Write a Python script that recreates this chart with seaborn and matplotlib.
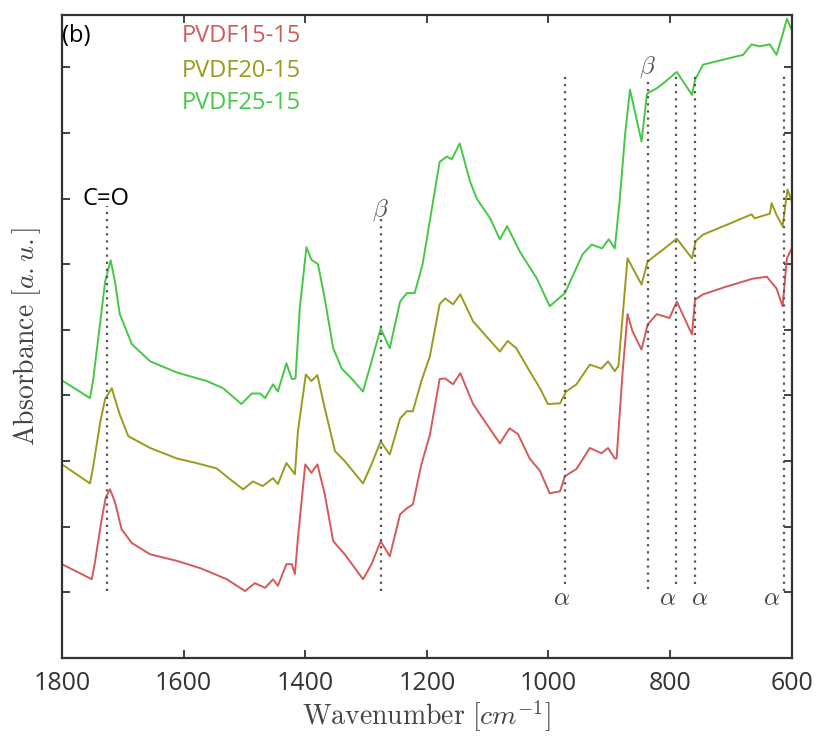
import seaborn as sns
import pandas as pd
import matplotlib
matplotlib.use("Agg")
import matplotlib.pyplot as plt

# FTIR spectra (wavenumber, absorbance in a.u., stacked)
wn_red = [1800, 1751, 1746, 1735, 1728, 1721, 1713, 1702, 1685, 1655, 1611, 1573, 1552, 1529, 1499,
          1483, 1466, 1453, 1445, 1431, 1422, 1417, 1412, 1400, 1390, 1380, 1368, 1354, 1335, 1305,
          1291, 1276, 1261, 1244, 1233, 1223, 1209, 1195, 1179, 1170, 1157, 1145, 1124, 1105, 1080,
          1064, 1050, 1031, 1014, 998, 981, 973, 954, 932, 913, 902, 891, 888, 878, 870, 862, 847,
          837, 822, 801, 789, 764, 759, 746, 707, 664, 641, 625, 615, 608, 600]
ab_red = [1.43, 1.20, 1.45, 2.10, 2.45, 2.57, 2.38, 1.96, 1.75, 1.58, 1.48, 1.37, 1.29, 1.20, 1.02,
          1.14, 1.07, 1.20, 1.10, 1.43, 1.43, 1.28, 1.83, 2.95, 2.82, 2.95, 2.50, 1.78, 1.58, 1.20,
          1.43, 1.78, 1.55, 2.19, 2.28, 2.34, 2.95, 3.40, 4.25, 4.26, 4.17, 4.34, 3.87, 3.61, 3.27,
          3.50, 3.41, 3.04, 2.85, 2.51, 2.54, 2.77, 2.88, 3.20, 3.12, 3.20, 3.04, 3.04, 4.37, 5.24,
          4.98, 4.70, 5.08, 5.24, 5.18, 5.43, 4.93, 5.46, 5.54, 5.66, 5.78, 5.81, 5.63, 5.36, 6.09, 6.24]

wn_olive = [1800, 1754, 1749, 1737, 1729, 1718, 1713, 1705, 1691, 1655, 1611, 1579, 1546, 1519, 1502,
            1486, 1470, 1453, 1445, 1431, 1417, 1412, 1399, 1390, 1380, 1368, 1351, 1335, 1305, 1291,
            1276, 1261, 1244, 1233, 1223, 1209, 1195, 1179, 1170, 1157, 1145, 1124, 1105, 1080, 1067,
            1053, 1031, 1014, 1001, 981, 971, 954, 932, 913, 902, 891, 885, 870, 847, 837, 822, 812,
            789, 764, 758, 746, 707, 666, 661, 636, 633, 625, 615, 607, 600]
ab_olive = [2.95, 2.66, 2.90, 3.60, 3.95, 4.11, 3.95, 3.71, 3.38, 3.20, 3.04, 2.97, 2.89, 2.69, 2.57,
            2.69, 2.62, 2.74, 2.65, 2.97, 2.80, 3.46, 4.32, 4.22, 4.31, 3.81, 3.15, 3.00, 2.66, 2.95,
            3.30, 3.10, 3.65, 3.76, 3.76, 4.22, 4.60, 5.39, 5.48, 5.39, 5.54, 5.13, 4.93, 4.67, 4.83,
            4.72, 4.37, 4.11, 3.87, 3.88, 4.06, 4.17, 4.47, 4.41, 4.52, 4.37, 4.45, 6.09, 5.69, 6.04,
            6.15, 6.22, 6.39, 6.09, 6.35, 6.45, 6.60, 6.76, 6.70, 6.77, 6.93, 6.75, 6.58, 7.14, 6.96]

wn_green = [1800, 1754, 1749, 1737, 1729, 1720, 1713, 1705, 1685, 1655, 1611, 1562, 1535, 1505, 1488,
            1474, 1466, 1453, 1445, 1431, 1422, 1416, 1409, 1398, 1390, 1379, 1368, 1354, 1340, 1324,
            1305, 1291, 1276, 1261, 1244, 1233, 1220, 1207, 1179, 1167, 1159, 1146, 1129, 1118, 1096,
            1080, 1068, 1047, 1019, 998, 973, 944, 929, 912, 901, 891, 883, 874, 866, 858, 847, 838,
            822, 812, 789, 764, 759, 746, 707, 680, 666, 653, 636, 625, 615, 608, 600]
ab_green = [4.23, 3.96, 4.22, 5.13, 5.74, 6.06, 5.74, 5.24, 4.78, 4.52, 4.35, 4.22, 4.11, 3.87, 4.03,
            4.03, 3.96, 4.17, 4.06, 4.49, 4.25, 4.26, 5.33, 6.26, 6.07, 6.00, 5.48, 4.72, 4.41, 4.26,
            4.06, 4.52, 5.02, 4.72, 5.43, 5.56, 5.56, 6.00, 7.56, 7.64, 7.60, 7.84, 7.26, 7.00, 6.70,
            6.38, 6.58, 6.19, 5.78, 5.36, 5.56, 6.15, 6.30, 6.24, 6.38, 6.24, 6.96, 7.98, 8.66, 8.33,
            7.87, 8.60, 8.68, 8.75, 8.93, 8.58, 8.81, 9.04, 9.13, 9.19, 9.35, 9.32, 9.35, 9.19, 9.50,
            9.74, 9.57]

samples = ["PVDF15-15", "PVDF20-15", "PVDF25-15"]
colors = ["#d45a5a", "#9a9a1e", "#45c845"]

# marker lines (position, top, bottom)
line_pos = [1726, 1276, 973, 837, 791, 759, 612]
line_top = [6.88, 6.76, 8.93, 8.83, 8.93, 8.93, 8.93]
line_bot = [1.02, 1.02, 1.13, 1.05, 1.13, 1.13, 1.02]

alpha_x = [978, 805, 751, 633]

df = pd.concat([
    pd.DataFrame({"wn": wn_red, "ab": ab_red, "sample": samples[0]}),
    pd.DataFrame({"wn": wn_olive, "ab": ab_olive, "sample": samples[1]}),
    pd.DataFrame({"wn": wn_green, "ab": ab_green, "sample": samples[2]}),
])

sns.set_style("ticks")
plt.rcParams["font.family"] = ["Open Sans", "DejaVu Sans"]
plt.rcParams["mathtext.fontset"] = "cm"

fig = plt.figure(figsize=(8.19, 7.41), dpi=100)
ax = fig.add_axes([0.0757, 0.112, 0.891, 0.868])

sns.lineplot(data=df, x="wn", y="ab", hue="sample", palette=colors, linewidth=1.4,
             legend=False, ax=ax, estimator=None, sort=False)

ax.vlines(line_pos, line_bot, line_top, colors="#555555", linestyles=(0, (1, 2.2)), linewidth=1.6)

ax.set_xlim(1800, 600)
ax.set_ylim(0, 9.8)
ax.set_xticks([1800, 1600, 1400, 1200, 1000, 800, 600])
ax.set_yticks(range(1, 10))
ax.set_yticklabels([])
ax.tick_params(direction="in", length=6, width=1.3, colors="#333333", labelsize=18,
               top=True, right=True, pad=9)
for s in ax.spines.values():
    s.set_color("#333333")
    s.set_linewidth(1.6)

ax.set_xlabel(r"$\mathrm{Wavenumber}\ [cm^{-1}]$", fontsize=20, color="#444444", labelpad=2)
ax.set_ylabel(r"$\mathrm{Absorbance}\ [a.u.]$", fontsize=20, color="#444444", labelpad=5)

# annotations
ax.text(1800, 9.47, "(b)", fontsize=17, color="black", va="center", ha="left")
for name, c, yy in zip(samples, colors, [9.47, 8.95, 8.46]):
    ax.text(1603, yy, name, fontsize=17, color=c, va="center", ha="left")
ax.text(1727, 7.0, "C=O", fontsize=17, color="black", va="center", ha="center")
ax.text(1276, 6.83, r"$\beta$", fontsize=18, color="#555555", va="center", ha="center")
ax.text(838, 9.01, r"$\beta$", fontsize=18, color="#555555", va="center", ha="center")
for xa in alpha_x:
    ax.text(xa, 0.91, r"$\alpha$", fontsize=18, color="#444444", va="center", ha="center")

fig.savefig("out.png", dpi=100)
